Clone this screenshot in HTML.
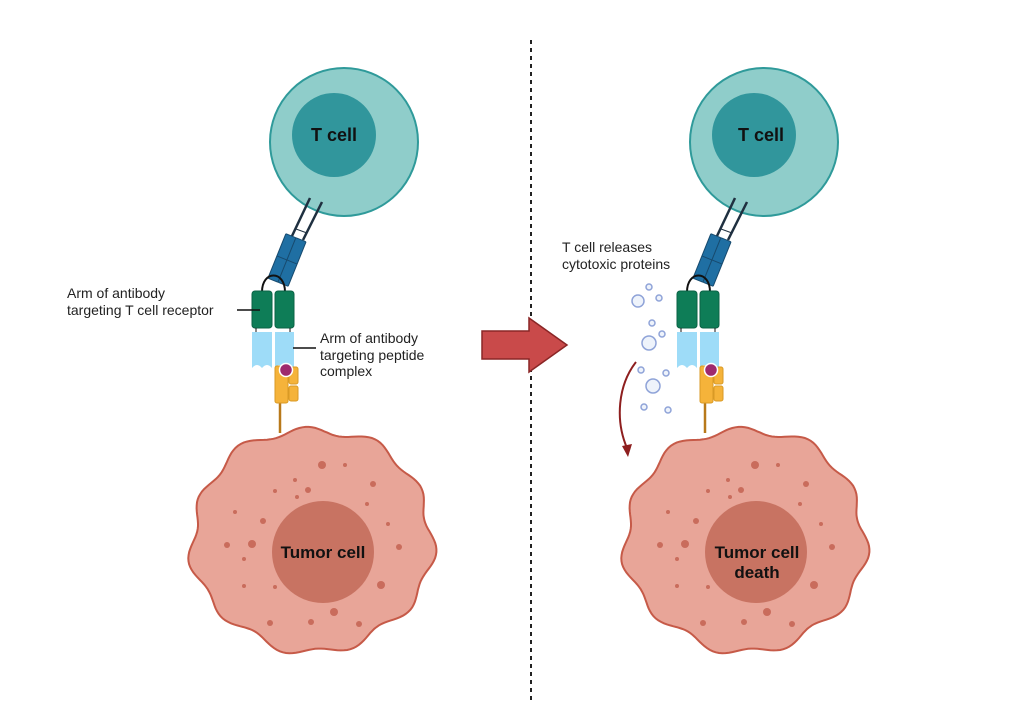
<!DOCTYPE html>
<html><head><meta charset="utf-8"><style>
html,body{margin:0;padding:0;background:#fff;}
svg{display:block;}
text{font-family:"Liberation Sans",sans-serif;}
</style></head><body>
<svg id="s" width="1024" height="717" viewBox="0 0 1024 717" xmlns="http://www.w3.org/2000/svg">
<defs>
<g id="tcell">
  <circle cx="344" cy="142" r="74" fill="#8fcdca" stroke="#2f9a9a" stroke-width="2"/>
  <circle cx="334" cy="135" r="42" fill="#31969c"/>
</g>
<g id="ab">
  <!-- TCR lines -->
  <line x1="310" y1="198" x2="292" y2="236" stroke="#1f3040" stroke-width="2.5"/>
  <line x1="322" y1="202" x2="303" y2="240" stroke="#1f3040" stroke-width="2.5"/>
  <line x1="296" y1="229" x2="307" y2="233" stroke="#1f3040" stroke-width="1"/>
  <g transform="translate(282,258) rotate(22)">
    <rect x="-5.5" y="-24" width="11" height="48" rx="1" fill="#1f6fa3" stroke="#174a6e" stroke-width="1"/>
    <line x1="-5.5" y1="0" x2="5.5" y2="0" stroke="#174a6e"/>
  </g>
  <g transform="translate(292,262) rotate(22)">
    <rect x="-5.5" y="-24" width="11" height="48" rx="1" fill="#1f6fa3" stroke="#174a6e" stroke-width="1"/>
    <line x1="-5.5" y1="0" x2="5.5" y2="0" stroke="#174a6e"/>
  </g>
  <!-- arch -->
  <path d="M262 292 C262 270 285 270 285 292" fill="none" stroke="#111" stroke-width="2"/>
  <!-- green -->
  <rect x="252" y="291" width="20" height="37" rx="3" fill="#0e7d57" stroke="#0b6346"/>
  <rect x="275" y="291" width="19" height="37" rx="3" fill="#0e7d57" stroke="#0b6346"/>
  <line x1="256" y1="328" x2="256" y2="332" stroke="#111"/>
  <line x1="290" y1="328" x2="290" y2="332" stroke="#111"/>
  <!-- light blue -->
  <path d="M252 332 h20 v36 q-5 -6 -10 0 q-5 -6 -10 0 z" fill="#9edcf8"/>
  <path d="M275 332 h19 v36 q-5 -6 -10 0 q-5 -6 -9 0 z" fill="#9edcf8"/>
  <!-- yellow receptor -->
  <line x1="280" y1="400" x2="280" y2="433" stroke="#b8791a" stroke-width="2.5"/>
  <rect x="275" y="366" width="13" height="37" rx="2" fill="#f5b33a" stroke="#d99a25"/>
  <rect x="289" y="367" width="9" height="17" rx="2" fill="#f5b33a" stroke="#d99a25"/>
  <rect x="289" y="386" width="9" height="15" rx="2" fill="#f5b33a" stroke="#d99a25"/>
  <circle cx="286" cy="370" r="6.5" fill="#9e2a6e" stroke="#fff" stroke-width="1.5"/>
</g>
</defs>

<line x1="531" y1="40" x2="531" y2="702" stroke="#222" stroke-width="2" stroke-dasharray="4,4"/>

<use href="#tcell"/>
<use href="#tcell" transform="translate(420,0)"/>
<use href="#ab"/>
<use href="#ab" transform="translate(425,0)"/>

<path id="t1" fill="#e8a598" stroke="#c65a48" stroke-width="2"/>
<path id="t2" fill="#e8a598" stroke="#c65a48" stroke-width="2"/>
<g id="dots1" fill="#c96c5c"></g>
<g id="dots2" fill="#c96c5c"></g>
<circle cx="323" cy="552" r="51" fill="#c87362"/>
<circle cx="756" cy="552" r="51" fill="#c87362"/>

<!-- big arrow -->
<path d="M482 331 H529 V318 L567 345 L529 372 V359 H482 Z" fill="#c94a4a" stroke="#8a2626" stroke-width="1.5"/>

<!-- bubbles -->
<g fill="#eef3fb" stroke="#8fa3d8" stroke-width="1.5">
<circle cx="649" cy="287" r="3"/><circle cx="638" cy="301" r="6"/><circle cx="659" cy="298" r="3"/>
<circle cx="652" cy="323" r="3"/><circle cx="662" cy="334" r="3"/><circle cx="649" cy="343" r="7"/>
<circle cx="641" cy="370" r="3"/><circle cx="666" cy="373" r="3"/><circle cx="653" cy="386" r="7"/>
<circle cx="644" cy="407" r="3"/><circle cx="668" cy="410" r="3"/>
</g>
<path d="M636 362 C618 385 615 420 627 448" fill="none" stroke="#8e1f1f" stroke-width="2"/>
<path d="M622 446 L628 457 L632 444 Z" fill="#8e1f1f"/>

<!-- labels -->
<g font-size="14" fill="#222">
<text x="67" y="298">Arm of antibody</text>
<text x="67" y="315">targeting T cell receptor</text>
<text x="320" y="343">Arm of antibody</text>
<text x="320" y="360">targeting peptide</text>
<text x="320" y="376">complex</text>
<text x="562" y="252">T cell releases</text>
<text x="562" y="269">cytotoxic proteins</text>
</g>
<line x1="237" y1="310" x2="260" y2="310" stroke="#111" stroke-width="1.5"/>
<line x1="293" y1="348" x2="316" y2="348" stroke="#111" stroke-width="1.5"/>

<g font-weight="bold" fill="#111" text-anchor="middle">
<text x="334" y="141" font-size="18">T cell</text>
<text x="761" y="141" font-size="18">T cell</text>
<text x="323" y="558" font-size="17">Tumor cell</text>
<text x="757" y="558" font-size="17">Tumor cell</text>
<text x="757" y="578" font-size="17">death</text>
</g>
</svg>
<script>
function blob(cx,cy,rx,ry){var d="",n=240;for(var i=0;i<=n;i++){var a=i/n*2*Math.PI;var w=1+0.035*Math.sin(11*a+0.5)+0.015*Math.sin(5*a);var x=cx+rx*w*Math.cos(a),y=cy+ry*w*Math.sin(a);d+=(i?"L":"M")+x.toFixed(1)+" "+y.toFixed(1);}return d+"Z";}
document.getElementById("t1").setAttribute("d",blob(312,540,120,111));
document.getElementById("t2").setAttribute("d",blob(745,540,120,111));
var dots=[[142,55,4],[165,55,2],[128,80,3],[115,70,2],[95,81,2],[117,87,2],[55,102,2],[83,111,3],[193,74,3],[187,94,2],[208,114,2],[47,135,3],[72,134,4],[64,149,2],[219,137,3],[64,176,2],[95,177,2],[201,175,4],[154,202,4],[131,212,3],[90,213,3],[179,214,3]];
["dots1","dots2"].forEach(function(id,k){var g=document.getElementById(id),ox=k?613:180;dots.forEach(function(p){var c=document.createElementNS("http://www.w3.org/2000/svg","circle");c.setAttribute("cx",ox+p[0]);c.setAttribute("cy",410+p[1]);c.setAttribute("r",p[2]);g.appendChild(c);});});
</script>
</body></html>
